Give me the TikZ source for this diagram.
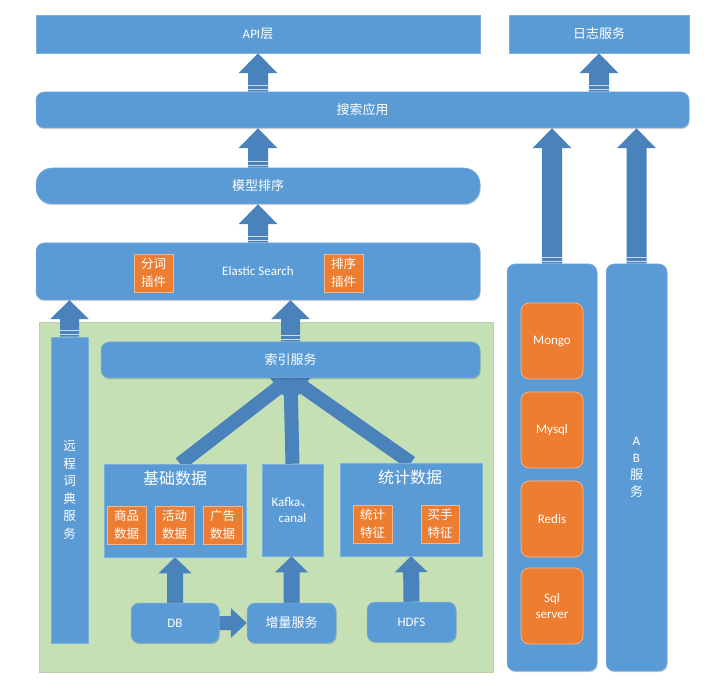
\documentclass[tikz,border=0pt]{standalone}
\usepackage{fontspec}
\setmainfont{Carlito}
\newfontfamily\cjk{Noto Sans CJK SC}
\usetikzlibrary{calc,shadows}
\definecolor{boxblue}{HTML}{5B9BD5}
\definecolor{arrblue}{HTML}{4A82BB}
\definecolor{orgc}{HTML}{ED7D31}
\definecolor{grnc}{HTML}{C5E0B4}
\pgfdeclarelayer{bgzero}
\pgfdeclarelayer{arrlayer}
\pgfsetlayers{bgzero,arrlayer,main}
\tikzset{
  shad/.style={drop shadow={shadow xshift=0.6pt,shadow yshift=-1.2pt,opacity=0.18,fill=black}},
  sz/.style 2 args={minimum width=#1pt,minimum height=#2pt},
  bbox/.style={shape=rectangle,fill=boxblue,draw=boxblue!80!white,line width=0.5pt,text=white,
    inner sep=0pt,align=center,font=\fontsize{13}{16}\selectfont,shad},
  rbox/.style={bbox,rounded corners=#1},
  obox/.style={shape=rectangle,fill=orgc,draw=orgc!55!white,line width=0.7pt,text=white,
    inner sep=0pt,align=center,font=\fontsize{12.5}{18}\selectfont\cjk},
  orbox/.style={obox,rounded corners=8pt,font=\fontsize{13}{16}\selectfont},
  greenbg/.style={shape=rectangle,fill=grnc,draw=grnc!85!gray,line width=0.5pt,inner sep=0pt},
  ttl/.style={text=white,inner sep=0pt,font=\fontsize{16}{18}\selectfont\cjk},
  barr/.style n args={3}{fill=arrblue,draw=none,
    to path={($(\tikztostart)!#1!90:(\tikztotarget)$)
      -- ($(\tikztotarget)!#3!(\tikztostart)!#1!90:(\tikztotarget)$)
      -- ($(\tikztotarget)!#3!(\tikztostart)!#2!90:(\tikztotarget)$)
      -- (\tikztotarget)
      -- ($(\tikztotarget)!#3!(\tikztostart)!#2!-90:(\tikztotarget)$)
      -- ($(\tikztotarget)!#3!(\tikztostart)!#1!-90:(\tikztotarget)$)
      -- ($(\tikztostart)!#1!-90:(\tikztotarget)$) -- cycle}},
  bigarr/.style={barr={10pt}{19.5pt}{20pt}},
  midarr/.style={barr={9.5pt}{19.5pt}{19pt}},
  smallarr/.style={barr={8pt}{16.5pt}{16pt}},
  convarr/.style={barr={7pt}{13.5pt}{16pt}},
  harr/.style={barr={7pt}{15pt}{16pt}},
  stripes/.style={draw=white!72!arrblue,line width=0.8pt,
    to path={($(\tikztostart)!2.5pt!(\tikztotarget)!#1!90:(\tikztotarget)$)
      -- ($(\tikztostart)!2.5pt!(\tikztotarget)!#1!-90:(\tikztotarget)$)
      ($(\tikztostart)!6pt!(\tikztotarget)!#1!90:(\tikztotarget)$)
      -- ($(\tikztostart)!6pt!(\tikztotarget)!#1!-90:(\tikztotarget)$)}}
}
\begin{document}
\begin{tikzpicture}[x=1pt,y=-1pt]
\useasboundingbox (0,0) rectangle (726,692);
\begin{pgfonlayer}{bgzero}
\node[greenbg,sz={454}{350}] (green) at (266,497) {};
\end{pgfonlayer}
% top row
\node[bbox,sz={444}{38}] (api) at (258,34) {API{\cjk 层}};
\node[bbox,sz={180}{38}] (log) at (599,34) {\cjk 日志服务};
\node[rbox=8pt,sz={653}{36}] (search) at (362.5,110) {\cjk 搜索应用};
\node[rbox=16pt,sz={444}{36}] (model) at (258,186) {\cjk 模型排序};
\node[rbox=8pt,sz={444}{57}] (es) at (258,271.5) {Elastic Search};
\node[obox,sz={39}{38}] (fenci) at (153.5,273) {分词\\插件};
\node[obox,sz={39}{38}] (paixu) at (343.5,273) {排序\\插件};
% left block
\node[bbox,sz={37}{306},font=\fontsize{12.5}{17.6}\selectfont\cjk] (yuan) at (69.5,490) {远\\程\\词\\典\\服\\务};
\node[rbox=8pt,sz={379}{36}] (index) at (290.5,360) {\cjk 索引服务};
\node[bbox,sz={142}{93}] (jc) at (175,510.5) {};
\node[ttl] (jctitle) at (175,478) {基础数据};
\node[obox,sz={39}{38}] (sp) at (126.5,525) {商品\\数据};
\node[obox,sz={39}{38}] (hd) at (174.5,525) {活动\\数据};
\node[obox,sz={39}{38}] (gg) at (222.5,525) {广告\\数据};
\node[bbox,sz={61}{92}] (kafka) at (292.5,510) {Kafka{\cjk 、}\\canal};
\node[bbox,sz={142}{93}] (tj) at (411,509.5) {};
\node[ttl] (tjtitle) at (410,477) {统计数据};
\node[obox,sz={39}{38}] (tz) at (372.5,524) {统计\\特征};
\node[obox,sz={38}{38}] (ms) at (440,524) {买手\\特征};
\node[rbox=8pt,sz={88}{40}] (db) at (175,623) {DB};
\node[rbox=8pt,sz={89}{40},font=\fontsize{13}{16}\selectfont\cjk] (inc) at (291.5,623) {增量服务};
\node[rbox=8pt,sz={89}{40}] (hdfs) at (411.5,622) {HDFS};
% right columns
\node[rbox=8pt,sz={90}{407}] (col1) at (552,467.5) {};
\node[orbox,sz={62}{76}] (mongo) at (552,341) {Mongo};
\node[orbox,sz={62}{76}] (mysql) at (552,430) {Mysql};
\node[orbox,sz={62}{76}] (redis) at (552,519) {Redis};
\node[orbox,sz={62}{76}] (sql) at (552,606) {Sql\\server};
\node[rbox=8pt,sz={61}{407},font=\fontsize{13}{17}\selectfont] (ab) at (636.5,467.5) {A\\B\\{\cjk 服}\\{\cjk 务}};
% connector end points
\coordinate (a1) at (search.north -| api.south);
\coordinate (a2) at (search.north -| log.south);
\coordinate (a3) at (search.south -| model.north);
\coordinate (a4) at (search.south -| col1.north);
\coordinate (a5) at (search.south -| ab.north);
\coordinate (a6) at (es.south -| yuan.north);
\coordinate (a7) at (es.south -| index.north);
\coordinate (a8) at (kafka.south -| inc.north);
\coordinate (jctop) at ($(jc.north)+(5,0)$);
\begin{pgfonlayer}{arrlayer}
\path[bigarr] (a1) to (api.south);
\path[bigarr] (a2) to (log.south);
\path[bigarr] (model.north) to (a3);
\path[bigarr] (es.north) to (model.south);
\path[bigarr] (col1.north) to (a4);
\path[bigarr] (ab.north) to (a5);
\path[midarr] (yuan.north) to (a6);
\path[midarr] (index.north) to (a7);
\path[convarr] (jctop) to (index.south);
\path[convarr] (kafka.north) to (index.south);
\path[convarr] (tj.north) to (index.south);
\path[smallarr] (db.north) to (jc.south);
\path[smallarr] (inc.north) to (a8);
\path[smallarr] (hdfs.north) to (tj.south);
\path[harr] (db.east) to (inc.west);
\path[stripes=10pt] (a1) to (api.south);
\path[stripes=10pt] (a2) to (log.south);
\path[stripes=10pt] (model.north) to (a3);
\path[stripes=10pt] (es.north) to (model.south);
\path[stripes=10pt] (col1.north) to (a4);
\path[stripes=10pt] (ab.north) to (a5);
\path[stripes=9.5pt] (yuan.north) to (a6);
\path[stripes=9.5pt] (index.north) to (a7);
\end{pgfonlayer}
\end{tikzpicture}
\end{document}
